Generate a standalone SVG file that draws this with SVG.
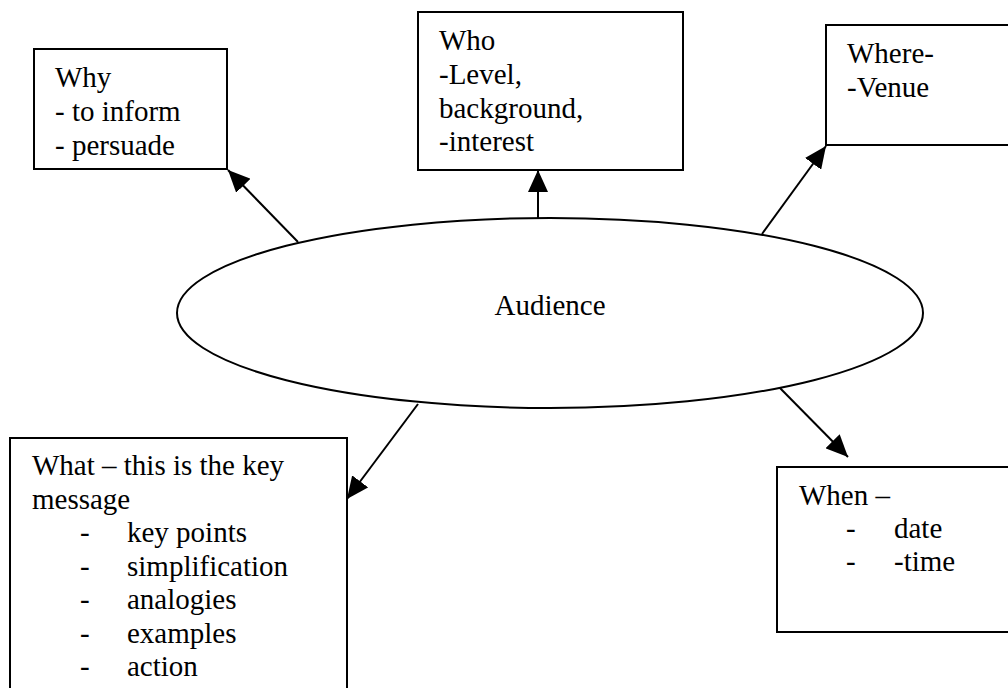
<svg xmlns="http://www.w3.org/2000/svg" width="1008" height="688" viewBox="0 0 1008 688">
  <defs>
    <marker id="arrow" markerUnits="userSpaceOnUse" markerWidth="22" markerHeight="20" refX="22" refY="10" orient="auto">
      <path d="M0,0 L22,10 L0,20 z" fill="#000"/>
    </marker>
    <style>
      .box { fill: #fff; stroke: #000; stroke-width: 2; }
      .hub { fill: #fff; stroke: #000; stroke-width: 2; }
      .lbl { font-family: "Liberation Serif", Tinos, "Times New Roman", Times, "DejaVu Serif", serif; font-size: 29px; fill: #000; }
      .edge { stroke: #000; stroke-width: 2; fill: none; marker-end: url(#arrow); }
    </style>
  </defs>
  <rect width="1008" height="688" fill="#fff"/>

  <g id="connectors">
    <line class="edge" x1="298" y1="242" x2="228" y2="170"/>
    <line class="edge" x1="538" y1="218" x2="538" y2="170"/>
    <line class="edge" x1="762" y1="234" x2="826" y2="146"/>
    <line class="edge" x1="418" y1="404" x2="347" y2="499"/>
    <line class="edge" x1="777" y1="385" x2="848" y2="457"/>
  </g>

  <g font-family="Liberation Serif, Times New Roman, serif">
  <g id="audience">
    <ellipse class="hub" cx="550" cy="313" rx="373" ry="95"/>
    <text class="lbl" x="550" y="315" text-anchor="middle">Audience</text>
  </g>

  <g id="why">
    <rect class="box" x="34" y="49" width="193" height="120"/>
    <text class="lbl" x="55" y="87">Why</text>
    <text class="lbl" x="55" y="121">- to inform</text>
    <text class="lbl" x="55" y="155">- persuade</text>
  </g>

  <g id="who">
    <rect class="box" x="418" y="12" width="265" height="158"/>
    <text class="lbl" x="439" y="50">Who</text>
    <text class="lbl" x="439" y="84">-Level,</text>
    <text class="lbl" x="439" y="118">background,</text>
    <text class="lbl" x="439" y="151">-interest</text>
  </g>

  <g id="where">
    <rect class="box" x="826" y="25" width="200" height="120"/>
    <text class="lbl" x="847" y="63">Where-</text>
    <text class="lbl" x="847" y="97">-Venue</text>
  </g>

  <g id="what">
    <rect class="box" x="10" y="438" width="337" height="270"/>
    <text class="lbl" x="32" y="475">What – this is the key</text>
    <text class="lbl" x="32" y="508.5">message</text>
    <text class="lbl" x="80" y="542">-</text><text class="lbl" x="127" y="542">key points</text>
    <text class="lbl" x="80" y="575.5">-</text><text class="lbl" x="127" y="575.5">simplification</text>
    <text class="lbl" x="80" y="609">-</text><text class="lbl" x="127" y="609">analogies</text>
    <text class="lbl" x="80" y="642.5">-</text><text class="lbl" x="127" y="642.5">examples</text>
    <text class="lbl" x="80" y="676">-</text><text class="lbl" x="127" y="676">action</text>
  </g>

  <g id="when">
    <rect class="box" x="777" y="467" width="250" height="165"/>
    <text class="lbl" x="799" y="505">When –</text>
    <text class="lbl" x="846" y="538">-</text><text class="lbl" x="894" y="538">date</text>
    <text class="lbl" x="846" y="571">-</text><text class="lbl" x="894" y="571">-time</text>
  </g>
  </g>
</svg>
